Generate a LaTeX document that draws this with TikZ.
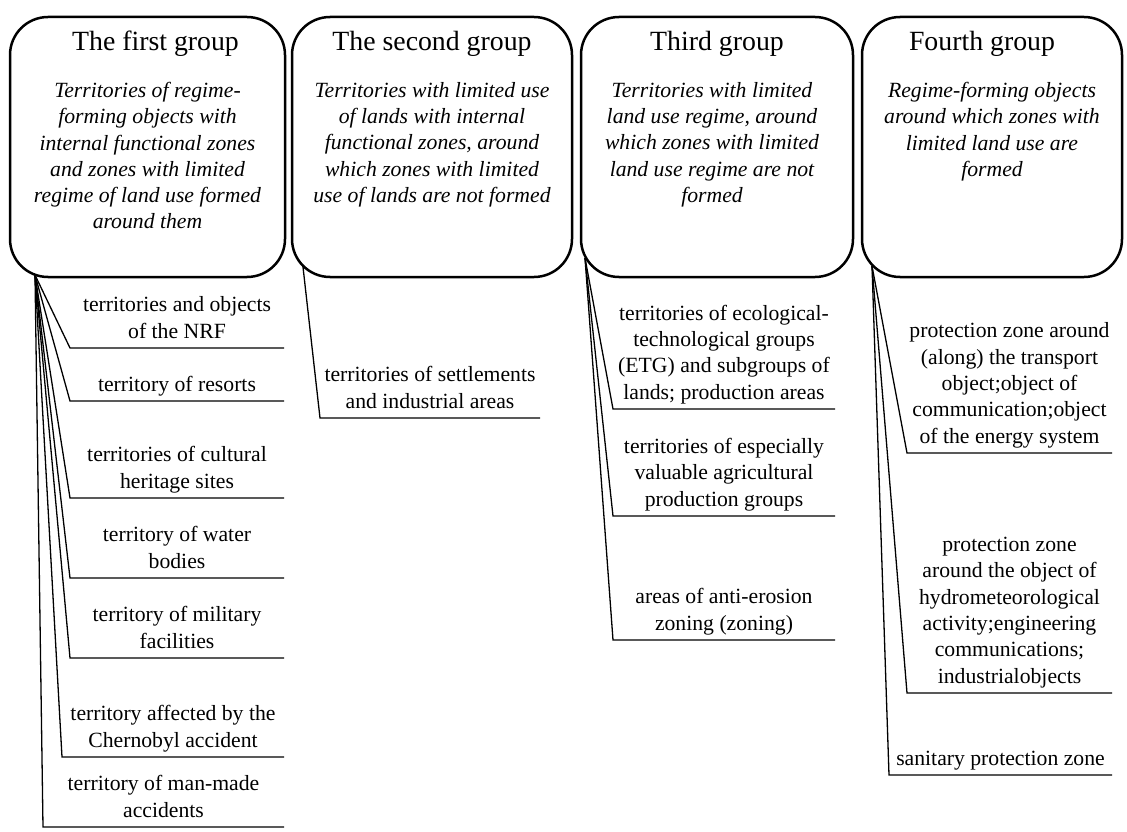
\documentclass[tikz,border=0pt]{standalone}
\usepackage{fontspec}
\setmainfont{Liberation Serif}
\usetikzlibrary{positioning}

\begin{document}
\begin{tikzpicture}[x=1pt, y=1pt, node distance=9pt,
			every node/.style={font=\fontsize{21.7}{26.3}\selectfont, align=center, inner sep=0pt},
			groupbox/.style={draw, line width=2.5pt, rounded corners=38pt, minimum height=260pt, outer sep=0pt},
			grouptitle/.style={anchor=base, font=\fontsize{27.8}{32}\selectfont},
			groupdesc/.style={anchor=north, font=\fontsize{21.7}{26.3}\selectfont\itshape},
			item/.style={anchor=south west, inner ysep=2pt, outer sep=0pt, execute at end node=\strut},
			link/.style={line width=1.3pt}]
			\useasboundingbox (0,0) rectangle (1127,-832);
			
			\node[groupbox, minimum width=275pt] (g1) at (147.5,-147) {};
			\node[groupbox, minimum width=280pt, right=7pt of g1] (g2) {};
			\node[groupbox, minimum width=272pt, right=of g2] (g3) {};
			\node[groupbox, minimum width=260pt, right=of g3] (g4) {};
			
			\node[grouptitle] (t1) at ([xshift=8pt, yshift=-34pt]g1.north) {The first group};
			\node[grouptitle] (t2) at ([yshift=-34pt]g2.north) {The second group};
			\node[grouptitle] (t3) at ([yshift=-34pt]g3.north) {Third group};
			\node[grouptitle] (t4) at ([xshift=-10pt, yshift=-34pt]g4.north) {Fourth group};
			
			\node[groupdesc] (d1) at ([yshift=-65pt]g1.north) {Territories of regime-\\forming objects with\\internal functional zones\\and zones with limited\\regime of land use formed\\around them};
			\node[groupdesc] (d2) at ([yshift=-65pt]g2.north) {Territories with limited use\\of lands with internal\\functional zones, around\\which zones with limited\\use of lands are not formed};
			\node[groupdesc] (d3) at ([xshift=-5pt, yshift=-65pt]g3.north) {Territories with limited\\land use regime, around\\which zones with limited\\land use regime are not\\formed};
			\node[groupdesc] (d4) at ([yshift=-65pt]g4.north) {Regime-forming objects\\around which zones with\\limited land use are\\formed};
			
			\coordinate (o1) at (35,-275);
			\coordinate (o2) at (303,-267);
			\coordinate (o3) at (585,-258);
			\coordinate (o4) at (872,-266);
			
			\node[item, minimum width=214pt] (a1) at (70,-348) {territories and objects\\of the NRF};
			\node[item, minimum width=214pt] (a2) at (70,-401) {territory of resorts};
			\node[item, minimum width=214pt] (a3) at (70,-498) {territories of cultural\\heritage sites};
			\node[item, minimum width=214pt] (a4) at (70,-578) {territory of water\\bodies};
			\node[item, minimum width=214pt] (a5) at (70,-658) {territory of military\\facilities};
			\node[item, minimum width=222pt] (a6) at (62,-757) {territory affected by the\\Chernobyl accident};
			\node[item, minimum width=241pt] (a7) at (43,-827) {territory of man-made\\accidents};
			
			\node[item, minimum width=220pt] (b1) at (320,-418) {territories of settlements\\and industrial areas};
			
			\node[item, minimum width=222pt] (c1) at (613,-409) {territories of ecological-\\technological groups\\(ETG) and subgroups of\\lands; production areas};
			\node[item, minimum width=222pt] (c2) at (613,-516) {territories of especially\\valuable agricultural\\production groups};
			\node[item, minimum width=222pt] (c3) at (613,-640) {areas of anti-erosion\\zoning (zoning)};
			
			\node[item, minimum width=205pt] (e1) at (907,-453) {protection zone around\\(along) the transport\\object;object of\\communication;object\\of the energy system};
			\node[item, minimum width=205pt] (e2) at (907,-693) {protection zone\\around the object of\\hydrometeorological\\activity;engineering\\communications;\\industrialobjects};
			\node[item, minimum width=223pt] (e3) at (889,-775) {sanitary protection zone};
			
			\foreach \n in {a1,a2,a3,a4,a5,a6,a7}
				\draw[link] (o1) -- (\n.south west) -- (\n.south east);
			\draw[link] (o2) -- (b1.south west) -- (b1.south east);
			\foreach \n in {c1,c2,c3}
				\draw[link] (o3) -- (\n.south west) -- (\n.south east);
			\foreach \n in {e1,e2,e3}
				\draw[link] (o4) -- (\n.south west) -- (\n.south east);
		\end{tikzpicture}
\end{document}
